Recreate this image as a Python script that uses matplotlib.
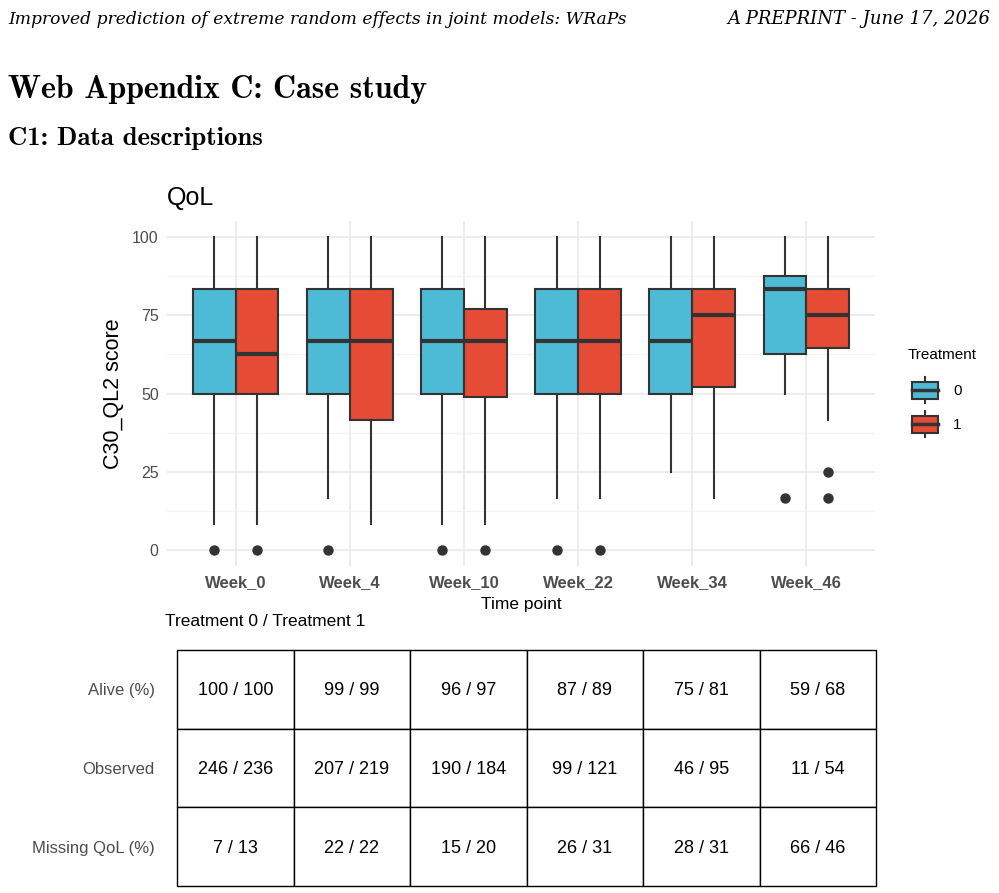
import matplotlib
matplotlib.use("Agg")
import matplotlib.pyplot as plt
from matplotlib.patches import Rectangle
from matplotlib.lines import Line2D

# ---------------- data ----------------
weeks = ['Week_0', 'Week_4', 'Week_10', 'Week_22', 'Week_34', 'Week_46']
treatments = ['0', '1']

t0_q1 = [50, 50, 50, 50, 50, 62.5]
t0_med = [66.67, 66.67, 66.67, 66.67, 66.67, 83.33]
t0_q3 = [83.33, 83.33, 83.33, 83.33, 83.33, 87.5]
t0_lo = [8.33, 16.67, 8.33, 16.67, 25, 50]
t0_hi = [100, 100, 100, 100, 100, 100]
t0_out = [[0], [0], [0], [0], [], [16.67]]

t1_q1 = [50, 41.67, 49, 50, 52.08, 64.58]
t1_med = [62.5, 66.67, 66.67, 66.67, 75, 75]
t1_q3 = [83.33, 83.33, 77.08, 83.33, 83.33, 83.33]
t1_lo = [8.33, 8.33, 8.33, 16.67, 16.67, 41.67]
t1_hi = [100, 100, 100, 100, 100, 100]
t1_out = [[0], [], [0], [0], [], [25, 16.67]]

row_labels = ['Alive (%)', 'Observed', 'Missing QoL (%)']
alive_t0 = [100, 99, 96, 87, 75, 59]
alive_t1 = [100, 99, 97, 89, 81, 68]
obs_t0 = [246, 207, 190, 99, 46, 11]
obs_t1 = [236, 219, 184, 121, 95, 54]
miss_t0 = [7, 22, 15, 26, 28, 66]
miss_t1 = [13, 22, 20, 31, 31, 46]

y_ticks = [0, 25, 50, 75, 100]

# ---------------- style ----------------
BLUE = '#4DBBD5'
RED = '#E64B35'
DARK = '#333333'
GREY_TXT = '#4D4D4D'
GRID = '#EBEBEB'
SANS = ['Liberation Sans', 'DejaVu Sans']

W, H = 999, 893
fig = plt.figure(figsize=(W / 100, H / 100), dpi=100)
fig.patch.set_facecolor('white')


def fx(px):
    return px / W


def fy(py):
    return 1 - py / H


# ---------------- page header ----------------
fig.text(fx(8), fy(24), 'Improved prediction of extreme random effects in joint models: WRaPs',
         ha='left', va='baseline', fontsize=12.3, style='italic',
         family=['DejaVu Serif'])
fig.text(fx(990), fy(24), 'A PREPRINT - June 17, 2026',
         ha='right', va='baseline', fontsize=13, style='italic',
         family=['DejaVu Serif'])
fig.text(fx(8), fy(98), 'Web Appendix C: Case study', ha='left', va='baseline',
         fontsize=23, family=['cmb10', 'DejaVu Serif'])
fig.text(fx(8), fy(145), 'C1: Data descriptions', ha='left', va='baseline',
         fontsize=19.3, family=['cmb10', 'DejaVu Serif'])

# ---------------- boxplot ----------------
pl, pr, pt, pb = 167, 875, 221.4, 565.6
ax = fig.add_axes([fx(pl), fy(pb), fx(pr - pl), (pb - pt) / H])
ax.set_facecolor('white')

n = len(weeks)
pos = list(range(1, n + 1))
bw = 0.375


def make_stats(q1, med, q3, lo, hi, out):
    return [dict(q1=a, med=b, q3=c, whislo=d, whishi=e, fliers=f)
            for a, b, c, d, e, f in zip(q1, med, q3, lo, hi, out)]


groups = [
    (make_stats(t0_q1, t0_med, t0_q3, t0_lo, t0_hi, t0_out), -bw / 2, BLUE),
    (make_stats(t1_q1, t1_med, t1_q3, t1_lo, t1_hi, t1_out), bw / 2, RED),
]

for stats, off, col in groups:
    ax.bxp(stats, positions=[p + off for p in pos], widths=bw,
           patch_artist=True, showcaps=False, manage_ticks=False,
           boxprops=dict(facecolor=col, edgecolor=DARK, linewidth=1.5),
           medianprops=dict(color=DARK, linewidth=3.0, solid_capstyle='butt'),
           whiskerprops=dict(color=DARK, linewidth=1.5),
           flierprops=dict(marker='o', markerfacecolor=DARK, markeredgecolor=DARK,
                           markersize=6.5, linestyle='none'))

ax.set_xlim(0.4, n + 0.6)
ax.set_ylim(-5, 105)
ax.set_xticks(pos)
ax.set_xticklabels(weeks)
ax.set_yticks(y_ticks)
ax.set_yticks([12.5, 37.5, 62.5, 87.5], minor=True)
ax.set_xticks([], minor=True)
ax.grid(True, which='major', color=GRID, linewidth=1.3)
ax.grid(True, which='minor', axis='y', color='#F3F3F3', linewidth=0.9)
ax.set_axisbelow(True)
for s in ax.spines.values():
    s.set_visible(False)
ax.tick_params(axis='both', which='both', length=0)
ax.tick_params(axis='y', pad=6)
ax.tick_params(axis='x', pad=7)
for lab in ax.get_yticklabels():
    lab.set_fontsize(11.5)
    lab.set_color(GREY_TXT)
    lab.set_family(SANS)
for lab in ax.get_xticklabels():
    lab.set_fontsize(12)
    lab.set_color(GREY_TXT)
    lab.set_fontweight('bold')
    lab.set_family(SANS)

fig.text(fx(113), fy(394), 'C30_QL2 score', rotation=90, ha='center', va='center',
         fontsize=15.5, family=SANS, color='black')
fig.text(fx(521), fy(605), 'Time point', ha='center', va='center',
         fontsize=12.5, family=SANS, color='black')
fig.text(fx(167), fy(198), 'QoL', ha='left', va='center', fontsize=18,
         family=SANS, color='black')
fig.text(fx(165), fy(622), 'Treatment 0 / Treatment 1', ha='left', va='center',
         fontsize=12.5, family=SANS, color='black')

# ---------------- legend (manual) ----------------
fig.text(fx(908), fy(355), 'Treatment', ha='left', va='center', fontsize=11,
         family=SANS, color='black')
lax = fig.add_axes([0, 0, 1, 1], facecolor='none')
lax.set_xlim(0, W)
lax.set_ylim(H, 0)
lax.axis('off')
for i, (lab, col) in enumerate(zip(treatments, [BLUE, RED])):
    yc = 390 + i * 34
    lax.add_line(Line2D([924.5, 924.5], [yc - 13, yc + 13], color=DARK, lw=1.5))
    lax.add_patch(Rectangle((911.5, yc - 8.5), 26, 17, facecolor=col,
                            edgecolor=DARK, lw=1.5, zorder=3))
    lax.add_line(Line2D([911.5, 937.5], [yc, yc], color=DARK, lw=2.5, zorder=4))
    fig.text(fx(953), fy(yc + 1), lab, ha='left', va='center', fontsize=11,
             family=SANS, color='black')

# ---------------- table ----------------
tl, tr, tt, tb = 177, 876, 650, 886
tax = fig.add_axes([fx(tl), fy(tb), fx(tr - tl), (tb - tt) / H])
nrow = len(row_labels)
tax.set_xlim(0, n)
tax.set_ylim(nrow, 0)
tax.axis('off')
pairs = [(alive_t0, alive_t1), (obs_t0, obs_t1), (miss_t0, miss_t1)]
for r, (a, b) in enumerate(pairs):
    for c in range(n):
        tax.add_patch(Rectangle((c, r), 1, 1, facecolor='white', edgecolor='black',
                                lw=1.0, clip_on=False))
        tax.text(c + 0.5, r + 0.52, f'{a[c]} / {b[c]}', ha='center', va='center',
                 fontsize=13, family=SANS, color='black')
    tax.text(-0.19, r + 0.52, row_labels[r], ha='right', va='center',
             fontsize=12, family=SANS, color=GREY_TXT)

fig.savefig('out.png', dpi=100, facecolor='white')
